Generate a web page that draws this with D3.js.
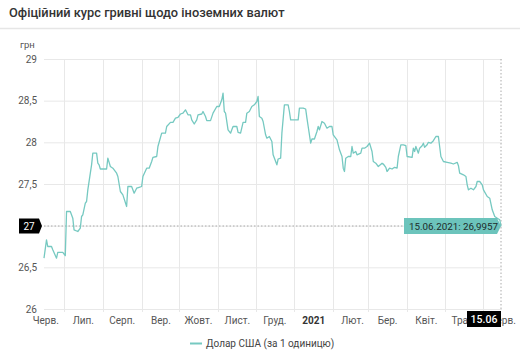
<!DOCTYPE html>
<html>
<head>
<meta charset="utf-8">
<script src="https://cdn.jsdelivr.net/npm/d3@7"></script>
<style>
  html, body { margin: 0; padding: 0; background: #fff; }
  svg { display: block; font-family: Roboto, "Noto Sans", sans-serif; }
</style>
</head>
<body>
<svg id="chart" width="520" height="350"></svg>
<script>
// Official UAH/USD rate, daily
const dates = [
  "2020-06-15","2020-06-17","2020-06-18","2020-06-21","2020-06-22","2020-06-25","2020-06-26","2020-06-30",
  "2020-07-02","2020-07-03","2020-07-06","2020-07-08","2020-07-09","2020-07-12","2020-07-14","2020-07-15",
  "2020-07-16","2020-07-18","2020-07-19","2020-07-20","2020-07-22","2020-07-23","2020-07-24","2020-07-27",
  "2020-07-28","2020-07-29","2020-07-30","2020-08-04","2020-08-05","2020-08-07","2020-08-09","2020-08-12",
  "2020-08-13","2020-08-15","2020-08-17","2020-08-20","2020-08-21","2020-08-24","2020-08-26","2020-08-28",
  "2020-08-30","2020-09-01","2020-09-02","2020-09-05","2020-09-07","2020-09-09","2020-09-10","2020-09-13",
  "2020-09-14","2020-09-17","2020-09-20","2020-09-21","2020-09-24","2020-09-26","2020-09-28","2020-09-30",
  "2020-10-02","2020-10-04","2020-10-06","2020-10-08","2020-10-10","2020-10-11","2020-10-13","2020-10-15",
  "2020-10-16","2020-10-19","2020-10-20","2020-10-22","2020-10-23","2020-10-26","2020-10-28","2020-10-31",
  "2020-11-02","2020-11-04","2020-11-05","2020-11-06","2020-11-07","2020-11-09","2020-11-11","2020-11-12",
  "2020-11-13","2020-11-16","2020-11-17","2020-11-19","2020-11-21","2020-11-23","2020-11-24","2020-11-26",
  "2020-11-28","2020-11-30","2020-12-02","2020-12-03","2020-12-04","2020-12-06","2020-12-07","2020-12-09",
  "2020-12-10","2020-12-12","2020-12-14","2020-12-15","2020-12-18","2020-12-19","2020-12-21","2020-12-22",
  "2020-12-24","2020-12-27","2020-12-28","2020-12-29","2021-01-03","2021-01-04","2021-01-05","2021-01-08",
  "2021-01-10","2021-01-11","2021-01-12","2021-01-14","2021-01-15","2021-01-17","2021-01-19","2021-01-20",
  "2021-01-21","2021-01-23","2021-01-25","2021-01-27","2021-01-29","2021-01-31","2021-02-01","2021-02-04",
  "2021-02-06","2021-02-08","2021-02-09","2021-02-10","2021-02-11","2021-02-13","2021-02-15","2021-02-16",
  "2021-02-17","2021-02-19","2021-02-20","2021-02-23","2021-02-24","2021-02-26","2021-02-28","2021-03-02",
  "2021-03-04","2021-03-05","2021-03-07","2021-03-09","2021-03-12","2021-03-13","2021-03-15","2021-03-16",
  "2021-03-18","2021-03-20","2021-03-22","2021-03-24","2021-03-25","2021-03-27","2021-03-29","2021-03-31",
  "2021-04-01","2021-04-05","2021-04-06","2021-04-07","2021-04-08","2021-04-10","2021-04-11","2021-04-13",
  "2021-04-14","2021-04-15","2021-04-17","2021-04-18","2021-04-20","2021-04-22","2021-04-24","2021-04-26",
  "2021-04-27","2021-04-28","2021-04-30","2021-05-03","2021-05-06","2021-05-08","2021-05-11","2021-05-12",
  "2021-05-13","2021-05-16","2021-05-18","2021-05-19","2021-05-20","2021-05-22","2021-05-24","2021-05-26",
  "2021-05-27","2021-05-29","2021-05-31","2021-06-01","2021-06-04","2021-06-06","2021-06-08","2021-06-10",
  "2021-06-12","2021-06-14","2021-06-15"
];
const usdRate = [
  26.61,26.83,26.75,26.75,26.71,26.61,26.68,26.68,
  26.64,27.17,27.17,27.09,26.95,26.93,26.97,27.11,
  27.13,27.27,27.29,27.43,27.63,27.73,27.87,27.87,
  27.75,27.73,27.68,27.68,27.81,27.71,27.69,27.63,
  27.59,27.41,27.37,27.23,27.47,27.47,27.39,27.45,
  27.46,27.47,27.59,27.69,27.69,27.77,27.82,27.83,
  27.95,28.11,28.11,28.19,28.24,28.24,28.29,28.30,
  28.34,28.35,28.39,28.33,28.33,28.27,28.22,28.27,
  28.33,28.34,28.37,28.31,28.26,28.26,28.35,28.43,
  28.43,28.51,28.59,28.37,28.35,28.15,28.11,28.15,
  28.19,28.19,28.12,28.11,28.24,28.24,28.35,28.37,
  28.43,28.45,28.49,28.55,28.31,28.29,28.25,28.09,
  28.05,28.07,28.01,27.85,27.73,27.80,27.81,28.11,
  28.45,28.45,28.37,28.27,28.27,28.27,28.41,28.41,
  28.40,28.29,28.19,27.99,28.04,28.04,28.13,28.19,
  28.15,28.25,28.23,28.17,28.19,28.19,28.09,28.03,
  27.91,27.83,27.69,27.65,27.81,27.83,27.83,27.95,
  27.87,27.89,27.85,27.87,27.93,27.93,27.95,27.99,
  27.89,27.77,27.75,27.71,27.75,27.74,27.70,27.65,
  27.69,27.68,27.70,27.69,27.83,27.97,27.97,27.96,
  27.83,27.82,27.93,27.89,27.95,27.87,27.93,27.96,
  27.99,27.94,27.97,28.00,27.99,28.02,28.07,28.07,
  27.95,27.83,27.77,27.76,27.75,27.74,27.76,27.72,
  27.63,27.61,27.59,27.49,27.43,27.45,27.43,27.47,
  27.53,27.53,27.49,27.43,27.35,27.33,27.19,27.11,
  27.09,27.07,26.9957
];

const yTicks = [26, 26.5, 27, 27.5, 28, 28.5, 29];
const monthNames = ["Січ.","Лют.","Бер.","Квіт.","Трав.","Черв.","Лип.","Серп.","Вер.","Жовт.","Лист.","Груд."];
const seriesName = "Долар США (за 1 одиницю)";
const chartTitle = "Офіційний курс гривні щодо іноземних валют";
const unitLabel = "грн";
const hoverDate = "2021-06-15";
const hoverValue = 26.9957;
const hoverAxisValue = 27;
const hoverAxisDate = "15.06";

const parse = d3.timeParse("%Y-%m-%d");
const data = dates.map((d, i) => ({ date: parse(d), value: usdRate[i] }));

const svg = d3.select("#chart");
const W = 520;
const m = { left: 44, right: 19, top: 59, bottom: 41 };
const x = d3.scaleTime()
  .domain([parse("2020-06-15"), parse("2021-06-15")])
  .range([m.left, W - m.right]);
const y = d3.scaleLinear().domain([26, 29]).range([309, m.top]);

const lineColor = "#76c9c1";
const gridColor = "#e8e8e8";
const textColor = "#555";

// Title and divider
svg.append("text").attr("x", 9).attr("y", 17)
  .attr("font-size", 12.8).attr("font-weight", 500).attr("fill", "#333")
  .text(chartTitle);
svg.append("line").attr("x1", 0).attr("x2", W).attr("y1", 28.5).attr("y2", 28.5)
  .attr("stroke", "#e6e6e6").attr("stroke-width", 1.5);

// Unit label
svg.append("text").attr("x", 20).attr("y", 48)
  .attr("font-size", 9.5).attr("fill", textColor).text(unitLabel);

// Horizontal grid + y labels (the hovered level gets its own badge)
const yFmt = d => d3.format(",")(d).replace(".", ",");
const yAxis = d3.axisLeft(y).tickValues(yTicks)
  .tickSize(-(W - m.right - m.left + 1))
  .tickPadding(7)
  .tickFormat(d => d === hoverAxisValue ? "" : yFmt(d));
const gy = svg.append("g").attr("transform", `translate(${m.left},0)`).call(yAxis);
gy.select(".domain").remove();
gy.selectAll(".tick line").attr("stroke", gridColor);
gy.selectAll(".tick text").attr("font-size", 10).attr("fill", textColor)
  .attr("font-family", "Roboto, sans-serif");

// Vertical grid at month starts
const monthStarts = d3.timeMonth.range(parse("2020-06-16"), parse("2021-06-15"));
svg.append("g").selectAll("line").data(monthStarts).join("line")
  .attr("x1", d => Math.round(x(d)) + 0.5).attr("x2", d => Math.round(x(d)) + 0.5)
  .attr("y1", m.top).attr("y2", 312)
  .attr("stroke", gridColor);

// Month labels, centered mid-month
const midMonths = d3.timeMonth.range(parse("2020-06-01"), parse("2021-06-02"))
  .map(d => new Date(d.getFullYear(), d.getMonth(), 16));
const xAxis = d3.axisBottom(x).tickValues(midMonths).tickSize(0).tickPadding(8)
  .tickFormat(d => d.getMonth() === 0 ? String(d.getFullYear()) : monthNames[d.getMonth()]);
const gx = svg.append("g").attr("transform", "translate(0,309)").call(xAxis);
gx.select(".domain").remove();
gx.selectAll(".tick text").attr("font-size", 10)
  .attr("font-family", "Roboto, sans-serif")
  .attr("font-weight", d => d.getMonth() === 0 ? 700 : 400)
  .attr("fill", d => d.getMonth() === 0 ? "#333" : textColor);

// Crosshair
const hx = x(parse(hoverDate));
const hy = y(hoverValue);
svg.append("line").attr("x1", m.left).attr("x2", hx).attr("y1", hy).attr("y2", hy)
  .attr("stroke", "#aaa").attr("stroke-dasharray", "1.5,2");
svg.append("line").attr("x1", hx).attr("x2", hx).attr("y1", m.top).attr("y2", 309)
  .attr("stroke", "#aaa").attr("stroke-dasharray", "1.5,2");

// Series line
const line = d3.line().x(d => x(d.date)).y(d => y(d.value));
svg.append("path").datum(data).attr("d", line)
  .attr("fill", "none").attr("stroke", lineColor).attr("stroke-width", 1.3)
  .attr("stroke-linejoin", "round");

// Y crosshair badge
const yl = svg.append("g");
yl.append("path")
  .attr("d", `M19,${hy - 7.5} H39 L42,${hy} L39,${hy + 7.5} H19 Z`)
  .attr("fill", "#000");
yl.append("text").attr("x", 29).attr("y", hy + 3.5).attr("text-anchor", "middle")
  .attr("font-size", 10).attr("fill", "#fff").text(yFmt(hoverAxisValue));

// X crosshair badge
const xl = svg.append("g");
xl.append("rect").attr("x", hx - 34).attr("y", 311).attr("width", 34).attr("height", 16)
  .attr("fill", "#000");
xl.append("text").attr("x", hx - 17).attr("y", 323).attr("text-anchor", "middle")
  .attr("font-size", 10.5).attr("font-weight", 500).attr("fill", "#fff").text(hoverAxisDate);

// Tooltip
const tip = svg.append("g");
tip.append("path")
  .attr("d", `M404,${hy - 8} H497 L${hx},${hy} L497,${hy + 8} H404 Z`)
  .attr("fill", "#6cc4bc");
tip.append("text").attr("x", 409).attr("y", hy + 3.5)
  .attr("font-size", 9.8).attr("fill", "#1d2b2a")
  .text(`${d3.timeFormat("%d.%m.%Y")(parse(hoverDate))}: ${String(hoverValue).replace(".", ",")}`);

// Legend
const lg = svg.append("g");
lg.append("line").attr("x1", 190).attr("x2", 202).attr("y1", 343.5).attr("y2", 343.5)
  .attr("stroke", lineColor).attr("stroke-width", 2);
lg.append("text").attr("x", 206).attr("y", 347).attr("font-size", 10).attr("fill", "#444")
  .text(seriesName);
</script>
</body>
</html>
